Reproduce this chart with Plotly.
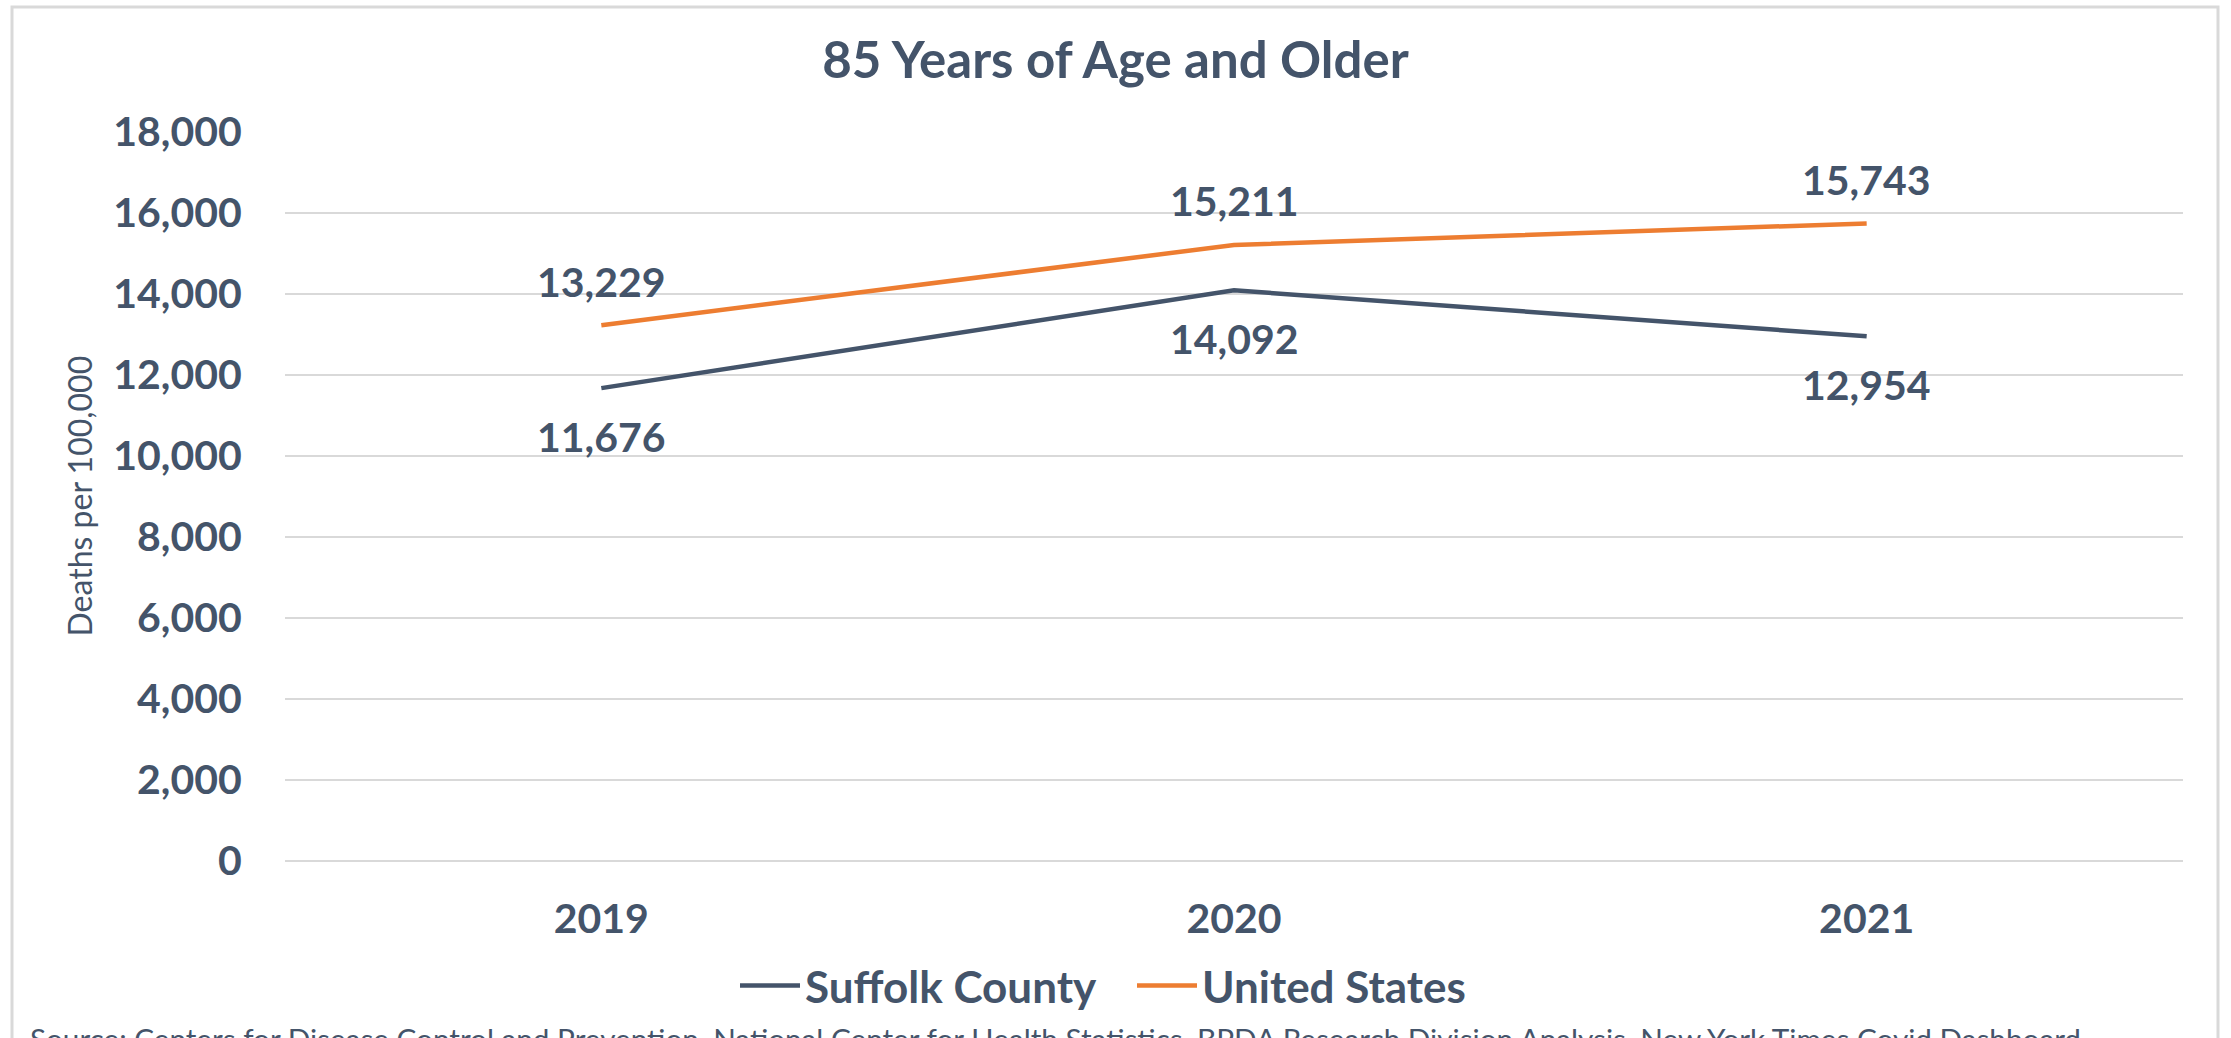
import plotly.graph_objects as go

# ---- data ----
years = ["2019", "2020", "2021"]
suffolk = [11676, 14092, 12954]
united_states = [13229, 15211, 15743]
y_ticks = [0, 2000, 4000, 6000, 8000, 10000, 12000, 14000, 16000, 18000]

TEXT = "#44546A"
ORANGE = "#ED7D31"
GRID = "#D9D9D9"
FONT = "Lato"

W, H = 2231, 1038
ML, MR, MT, MB = 285, 48, 132, 177
PW = W - ML - MR
PH = H - MT - MB


def px_x(px):
    return (px - ML) / PW


def px_y(py):
    return (H - MB - py) / PH


fig = go.Figure()
fig.add_trace(go.Scatter(
    x=years, y=suffolk, mode="lines", name="Suffolk County",
    line=dict(color=TEXT, width=4.5),
))
fig.add_trace(go.Scatter(
    x=years, y=united_states, mode="lines", name="United States",
    line=dict(color=ORANGE, width=4.5),
))

# data labels (x given as category index)
for i, v in enumerate(suffolk):
    fig.add_annotation(x=i, y=v, text=f"{v:,}", showarrow=False,
                       yshift=-48, font=dict(family=FONT, size=41, color=TEXT, weight=700))
for i, v in enumerate(united_states):
    fig.add_annotation(x=i, y=v, text=f"{v:,}", showarrow=False,
                       yshift=44, font=dict(family=FONT, size=41, color=TEXT, weight=700))

# y axis title
fig.add_annotation(xref="paper", yref="paper", x=px_x(79), y=0.5,
                   text="Deaths per 100,000", textangle=-90, showarrow=False,
                   xanchor="center", yanchor="middle",
                   font=dict(family=FONT, size=32, color=TEXT))

# source
fig.add_annotation(xref="paper", yref="paper", x=px_x(28), y=px_y(1019),
                   xanchor="left", yanchor="top", showarrow=False, align="left",
                   text="Source: Centers for Disease Control and Prevention, National Center for Health Statistics, BPDA Research Division Analysis, New York Times Covid Dashboard",
                   font=dict(family=FONT, size=29.7, color=TEXT))

# chart border
fig.add_shape(type="rect", xref="paper", yref="paper",
              x0=px_x(12), x1=px_x(2218), y0=px_y(1100), y1=px_y(7),
              line=dict(color=GRID, width=3), fillcolor="rgba(0,0,0,0)", layer="below")

fig.update_layout(
    width=W, height=H,
    margin=dict(l=ML, r=MR, t=MT, b=MB, pad=0),
    paper_bgcolor="white", plot_bgcolor="white",
    title=dict(text="85 Years of Age and Older", x=0.5, xref="container", xanchor="center",
               y=1 - 60 / H, yref="container", yanchor="middle",
               font=dict(family=FONT, size=51, color=TEXT, weight=700)),
    legend=dict(orientation="h", x=px_x(735), xanchor="left", y=px_y(986), yanchor="middle",
                font=dict(family=FONT, size=44, color=TEXT, weight=700),
                itemwidth=60, entrywidth=322, bgcolor="rgba(0,0,0,0)"),
    xaxis=dict(type="category", range=[-0.5, 2.5], showgrid=False, zeroline=False,
               showline=False, ticks="outside", ticklen=22, tickcolor="rgba(0,0,0,0)",
               tickfont=dict(family=FONT, size=41, color=TEXT, weight=700)),
    yaxis=dict(range=[0, 18000], tickvals=y_ticks, tickformat=",d",
               showgrid=True, gridcolor=GRID, gridwidth=2,
               zeroline=True, zerolinecolor=GRID, zerolinewidth=2, showline=False,
               ticks="outside", ticklen=34, tickcolor="rgba(0,0,0,0)",
               tickfont=dict(family=FONT, size=41, color=TEXT, weight=700)),
    showlegend=True,
)

fig.write_html("out.html", config={"displayModeBar": False},
               post_script="document.body.style.margin='0';document.body.style.overflow='hidden';")
